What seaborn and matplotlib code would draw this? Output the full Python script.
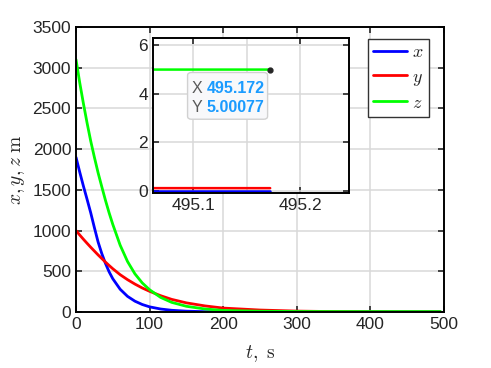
import matplotlib
matplotlib.use("Agg")
import matplotlib.pyplot as plt
import seaborn as sns
import numpy as np
from matplotlib.patches import FancyBboxPatch

# values
t = [0, 5, 10, 15, 20, 25, 30, 35, 40, 45, 50, 60, 70, 80, 90, 100, 115, 130,
     150, 175, 200, 250, 300, 350, 400, 450, 495.172]
x_vals = [1900, 1720, 1548, 1385, 1218, 1035, 860, 718, 597, 493, 408, 279,
          192, 133, 92, 63, 36.6, 21, 10, 3.9, 1.6, 0.2, 0, 0, 0, 0, 0]
y_vals = [1000, 946, 894, 844, 795, 748, 701, 657, 613, 571, 531, 458, 397,
          343, 295, 254, 200, 155, 112, 75, 48, 24, 11, 5, 2, 0.6, 0.12]
z_vals = [3100, 2819, 2563, 2323, 2099, 1899, 1710, 1539, 1372, 1217, 1075,
          820, 620, 469, 357, 273, 179, 118, 70, 37, 19, 9, 6.2, 5.4, 5.1,
          5.02, 5.00077]

tip_x = 495.172
tip_y = 5.00077

main_xticks = [0, 100, 200, 300, 400, 500]
main_yticks = [0, 500, 1000, 1500, 2000, 2500, 3000, 3500]
inset_xticks = [495.1, 495.2]
inset_yticks = [0, 2, 4, 6]

sns.set_style("ticks")
plt.rcParams['font.family'] = ['Liberation Sans', 'DejaVu Sans']
plt.rcParams['mathtext.fontset'] = 'cm'

fig = plt.figure(figsize=(4.91, 3.68), dpi=100)
ax = fig.add_axes([0.1548, 0.1522, 0.7495, 0.7745])

series = [(x_vals, (0, 0, 1), '$x$'), (y_vals, (1, 0, 0), '$y$'), (z_vals, (0, 1, 0), '$z$')]
for vals, col, lab in series:
    sns.lineplot(x=t, y=vals, ax=ax, color=col, lw=2, label=lab, sort=False)

ax.set_xlim(0, 500)
ax.set_ylim(0, 3500)
ax.set_xticks(main_xticks)
ax.set_yticks(main_yticks)
ax.grid(True, color='0.85', lw=1.1)
ax.set_axisbelow(True)
ax.tick_params(direction='in', top=True, right=True, labelsize=12.5, length=4, width=1.2)
for s in ax.spines.values():
    s.set_linewidth(1.4)
    s.set_color('black')
ax.set_xlabel('$t,\\ \\mathrm{s}$', fontsize=14, labelpad=8)
ax.set_ylabel('$x, y, z\\ \\mathrm{m}$', fontsize=14, labelpad=4)

leg = ax.legend(loc='upper right', bbox_to_anchor=(0.959, 0.958), fontsize=13,
                frameon=True, fancybox=False, framealpha=1, edgecolor='0.2',
                handlelength=1.9, handletextpad=0.25, labelspacing=0.4,
                borderpad=0.3, borderaxespad=0)
leg.get_frame().set_linewidth(1.0)

# zoomed inset
ax_in = fig.add_axes([0.3116, 0.4755, 0.3992, 0.4212])
for vals, col, lab in series:
    sns.lineplot(x=t, y=vals, ax=ax_in, color=col, lw=1.8, sort=False)
ax_in.set_xlim(495.062, 495.246)
ax_in.set_ylim(-0.08, 6.3)
ax_in.set_xticks(inset_xticks)
ax_in.set_xticks([495.15], minor=True)
ax_in.set_yticks(inset_yticks)
ax_in.grid(True, which='both', color='0.85', lw=1.1)
ax_in.set_axisbelow(True)
ax_in.tick_params(direction='in', top=True, right=True, labelsize=12.5, length=4, width=1.2)
ax_in.tick_params(which='minor', length=0)
for s in ax_in.spines.values():
    s.set_linewidth(1.4)
    s.set_color('black')
if ax_in.get_legend():
    ax_in.get_legend().remove()

ax_in.plot(tip_x, tip_y, 'o', color='0.15', ms=3.5, zorder=5)

# data tip box
box = FancyBboxPatch((0.382, 0.676), 0.163, 0.127, transform=fig.transFigure,
                     boxstyle='round,pad=0,rounding_size=0.008',
                     facecolor='#f8f8fa', edgecolor='0.82', lw=1, zorder=6)
fig.patches.append(box)
tip_blue = '#1a9bff'
fig.text(0.3905, 0.760, 'X', color='0.35', fontsize=11.5, va='center', zorder=7)
fig.text(0.421, 0.760, f'{tip_x:.3f}', color=tip_blue, fontsize=11.5,
         fontweight='bold', va='center', zorder=7)
fig.text(0.3905, 0.708, 'Y', color='0.35', fontsize=11.5, va='center', zorder=7)
fig.text(0.421, 0.708, f'{tip_y:.5f}', color=tip_blue, fontsize=11.5,
         fontweight='bold', va='center', zorder=7)

fig.savefig('out.png', dpi=100)
